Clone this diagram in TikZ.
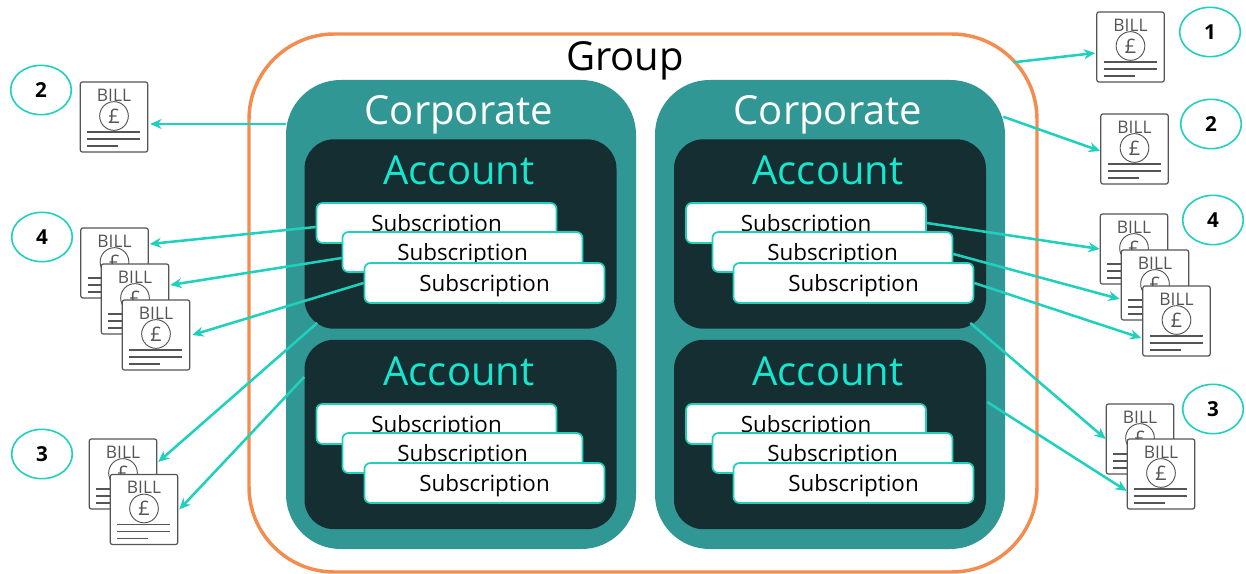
\documentclass[tikz,border=0pt]{standalone}
\usepackage{fontspec}
\setmainfont{Open Sans}
\usetikzlibrary{shapes,arrows.meta,positioning}

\definecolor{groupline}{HTML}{F58C4F}
\definecolor{corpfill}{HTML}{319795}
\definecolor{accfill}{HTML}{152E32}
\definecolor{tealline}{HTML}{1FD1BD}
\definecolor{acctext}{HTML}{17E6CF}
\definecolor{billgrey}{HTML}{555555}

\tikzset{
    group node/.style={rectangle,rounded corners=64pt,draw=groupline,line width=2.6pt,fill=white,minimum width=591pt,minimum height=403.5pt,inner sep=0pt},
    corp node/.style={rectangle,rounded corners=41pt,fill=corpfill,minimum width=262.5pt,minimum height=351.75pt,inner sep=0pt},
    acc node/.style={rectangle,rounded corners=22pt,fill=accfill,minimum width=234pt,minimum height=142pt,inner sep=0pt},
    sub node/.style={rectangle,rounded corners=4.5pt,draw=tealline,line width=1.3pt,fill=white,minimum width=180pt,minimum height=30pt,inner sep=0pt,text height=15.8pt,text depth=3.5pt,font=\fontsize{16.8}{20}\selectfont},
    big label/.style={inner sep=0pt,font=\fontsize{30}{36}\selectfont},
    bill node/.style={rectangle,rounded corners=1.5pt,draw=billgrey,line width=0.9pt,fill=white,minimum width=50.5pt,minimum height=52.5pt,inner sep=0pt},
    num node/.style={ellipse,draw=tealline,line width=1.2pt,fill=white,minimum width=45.5pt,minimum height=37pt,inner sep=0pt,font=\fontsize{15.5}{18}\selectfont\bfseries},
    link/.style={draw=tealline,line width=1.9pt,-{Stealth[length=8.5pt,width=7.5pt]}}
}

% bill icon: name, position
\newcommand{\billdoc}[2]{
\node[bill node] (#1) at (#2) {};
\node[text=billgrey,font=\fontsize{13}{15}\selectfont,inner sep=0pt] (#1t) at ([shift={(0,-22)}]#1.center) {BILL};
\node[circle,draw=billgrey,line width=0.7pt,minimum size=21.5pt,inner sep=0pt,text=billgrey,font=\fontsize{15}{17}\selectfont] (#1p) at ([shift={(0,-1)}]#1.center) {£};
\draw[billgrey,line width=0.8pt] ([shift={(-27,15)}]#1.center) -- ([shift={(26,15)}]#1.center);
\draw[billgrey,line width=0.8pt] ([shift={(-27,22)}]#1.center) -- ([shift={(26,22)}]#1.center);
\draw[billgrey,line width=0.8pt] ([shift={(-27,29)}]#1.center) -- ([shift={(4,29)}]#1.center);
}

\begin{document}
\begin{tikzpicture}[x=0.75pt,y=-0.75pt]
\useasboundingbox (0,0) rectangle (1246,574);

% Group
\node[group node] (group) at (643,303) {};
\node[big label] (grouplabel) at (625,61) {Group};

% Corporates
\node[corp node] (corpL) at (461,314.5) {};
\node[corp node] (corpR) at (830,314.5) {};
\node[big label,text=white] (corpLlabel) at (459,115) {Corporate};
\node[big label,text=white] (corpRlabel) at (828,115) {Corporate};

% Accounts
\node[acc node] (accLa) at (460.5,234) {};
\node[acc node] (accLb) at (460.5,434.5) {};
\node[acc node] (accRa) at (830,234) {};
\node[acc node] (accRb) at (830,434.5) {};
\node[big label,text=acctext] (accLalabel) at (459,170) {Account};
\node[big label,text=acctext] (accLblabel) at (459,371) {Account};
\node[big label,text=acctext] (accRalabel) at (828,170) {Account};
\node[big label,text=acctext] (accRblabel) at (828,371) {Account};

% Subscriptions
\node[sub node] (subLa) at (436.5,223) {Subscription};
\node[sub node] (subLb) at (462.5,252) {Subscription};
\node[sub node] (subLc) at (484.5,283) {Subscription};
\node[sub node] (subLd) at (436.5,424) {Subscription};
\node[sub node] (subLe) at (462.5,453) {Subscription};
\node[sub node] (subLf) at (484.5,483) {Subscription};
\node[sub node] (subRa) at (806,223) {Subscription};
\node[sub node] (subRb) at (832.5,252) {Subscription};
\node[sub node] (subRc) at (853.5,283) {Subscription};
\node[sub node] (subRd) at (806,424) {Subscription};
\node[sub node] (subRe) at (832.5,453) {Subscription};
\node[sub node] (subRf) at (853.5,483) {Subscription};

% Bills left
\billdoc{billLa}{114,117}
\billdoc{billLb}{114.5,263}
\billdoc{billLc}{135,299}
\billdoc{billLd}{156,335}
\billdoc{billLe}{123,474}
\billdoc{billLf}{144,509.5}

% Bills right
\billdoc{billRa}{1130.5,47}
\billdoc{billRb}{1134.5,149}
\billdoc{billRc}{1134,249}
\billdoc{billRd}{1155,285}
\billdoc{billRe}{1176.5,321}
\billdoc{billRf}{1140,439}
\billdoc{billRg}{1161,474}

% Numbers
\node[num node] (numLa) at (41,90) {2};
\node[num node] (numLb) at (42,237) {4};
\node[num node] (numLc) at (42,454) {3};
\node[num node] (numRa) at (1210,32) {1};
\node[num node] (numRb) at (1211,124) {2};
\node[num node] (numRc) at (1213,220) {4};
\node[num node] (numRd) at (1213,409) {3};

% Arrows
\draw[link] ([shift={(0,-190.5)}]corpL.west) -- ([shift={(2,7)}]billLa.east);
\draw[link] ([shift={(0,4)}]subLa.west) -- ([shift={(1,-19)}]billLb.east);
\draw[link] ([shift={(0,6)}]subLb.west) -- ([shift={(1,-14)}]billLc.east);
\draw[link] (subLc.west) -- ([shift={(2,0)}]billLd.east);
\draw[link] ([shift={(13,-6)}]accLa.south west) -- ([shift={(1,-12)}]billLe.east);
\draw[link] ([shift={(0,-57.5)}]accLb.west) -- ([shift={(1,0)}]billLf.east);

\draw[link] ([shift={(-25,30)}]group.north east) -- ([shift={(-1,6)}]billRa.west);
\draw[link] ([shift={(-2,37)}]corpR.north east) -- ([shift={(0,2)}]billRb.west);
\draw[link] (subRa.east) -- (billRc.west);
\draw[link] ([shift={(0,2)}]subRb.east) -- ([shift={(-1,14)}]billRd.west);
\draw[link] (subRc.east) -- ([shift={(-1,17)}]billRe.west);
\draw[link] ([shift={(-16,-6)}]accRa.south east) -- (billRf.west);
\draw[link] ([shift={(1,-32.5)}]accRb.east) -- ([shift={(0,17)}]billRg.west);

\end{tikzpicture}
\end{document}
